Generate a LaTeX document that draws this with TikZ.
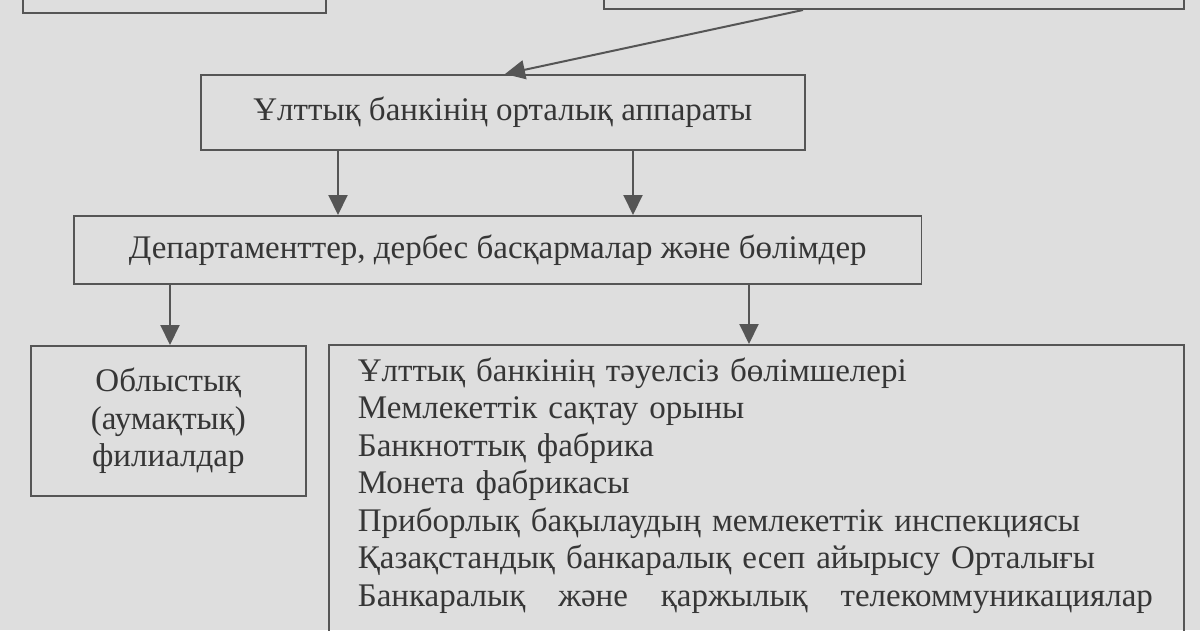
\documentclass[tikz,border=0pt]{standalone}
\usepackage{fontspec}
\setmainfont{Liberation Serif}
\usetikzlibrary{arrows.meta,positioning}
\definecolor{scanbg}{HTML}{DEDEDE}
\definecolor{ink}{HTML}{363636}
\definecolor{rulegray}{HTML}{555555}
\tikzset{
  orgbox/.style={draw=rulegray,line width=1.7pt,rectangle,inner sep=0pt,text=ink,
                 font=\fontsize{33}{37.5}\selectfont},
  link/.style={->,draw=rulegray,line width=2pt,>={Triangle[length=20pt,width=19pt]}}
}

\begin{document}
\begin{tikzpicture}[x=1pt,y=-1pt]
\fill[scanbg] (0,0) rectangle (1200,630);
\useasboundingbox (0,0) rectangle (1200,630);
\clip (0,0) rectangle (1200,630);
% boxes cut off by the top edge
\node[orgbox,minimum width=303pt,minimum height=60pt,anchor=south west] (board) at (22,14) {};
\node[orgbox,minimum width=580pt,minimum height=60pt,anchor=south west] (chair) at (603,10) {};
\node[orgbox,minimum width=604pt,minimum height=75pt,anchor=north west] (central) at (200,74)
     {Ұлттық банкінің орталық аппараты};
\node[orgbox,minimum height=68pt,inner xsep=55pt,anchor=north west] (dept) at (73,215)
     {Департаменттер, дербес басқармалар және бөлімдер};
\node[orgbox,minimum width=275pt,minimum height=150pt,anchor=north west,align=center] (branch) at (30,345)
     {Облыстық\\(аумақтық)\\филиалдар};
\node[orgbox,minimum width=855pt,minimum height=330pt,anchor=north west] (units) at (328,344) {};
\node[orgbox,draw=none,anchor=north west,text width=795pt,align=left,inner xsep=29pt,inner ysep=13pt]
     (unitlist) at (units.north west)
     {Ұлттық банкінің тәуелсіз бөлімшелері\\
      Мемлекеттік сақтау орыны\\
      Банкноттық фабрика\\
      Монета фабрикасы\\
      Приборлық бақылаудың мемлекеттік инспекциясы\\
      Қазақстандық банкаралық есеп айырысу Орталығы\\
      \hbox to 795pt{Банкаралық\hfill және\hfill қаржылық\hfill телекоммуникациялар}};
% connectors
\draw[link] ([xshift=200pt]chair.south west) -- ([xshift=305pt]central.north west);
\draw[link] ([xshift=138pt]central.south west) -- ([xshift=138pt]central.south west |- dept.north);
\draw[link] ([xshift=433pt]central.south west) -- ([xshift=433pt]central.south west |- dept.north);
\draw[link] ([xshift=97pt]dept.south west) -- ([xshift=97pt]dept.south west |- branch.north);
\draw[link] ([xshift=676pt]dept.south west) -- ([xshift=676pt]dept.south west |- units.north);
\end{tikzpicture}
\end{document}
